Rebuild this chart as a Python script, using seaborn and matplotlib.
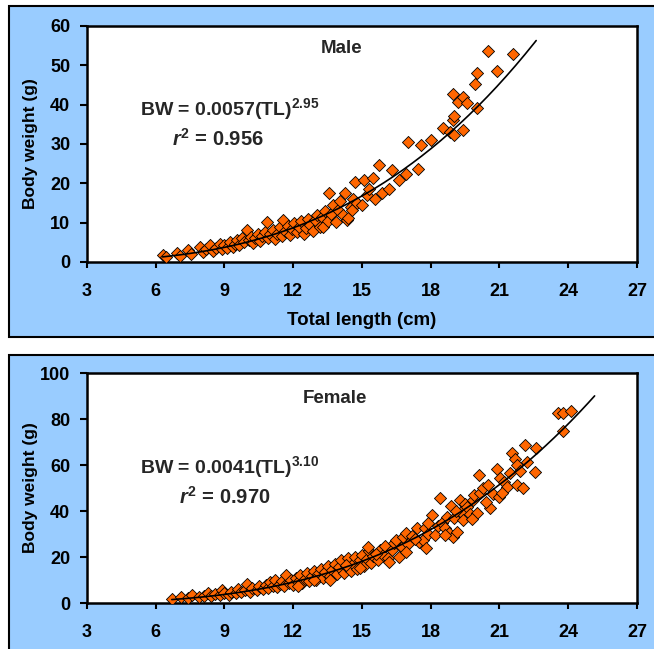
'''
Length-weight relationship of male and female fish (two panels)
Output: out.png
'''

import numpy as np
import pandas as pd
import seaborn as sns
import matplotlib.pyplot as plt
from matplotlib.patches import Rectangle

# plot settings
sns.set_theme(style="white")
plt.rcParams['font.family'] = ['Liberation Sans', 'DejaVu Sans']
plt.rcParams['mathtext.fontset'] = 'custom'
plt.rcParams['mathtext.rm'] = 'Liberation Sans:bold'
plt.rcParams['mathtext.it'] = 'Liberation Sans:bold:italic'
plt.rcParams['mathtext.bf'] = 'Liberation Sans:bold'

# ---- data ----
male_tl = [6.33, 6.45, 6.91, 7.05, 7.42, 7.55, 7.93, 8.05, 8.2, 8.37, 8.5, 8.65, 8.8, 8.9,
           9.0, 9.1, 9.25, 9.35, 9.45, 9.55, 9.65, 9.75, 9.85, 9.97, 10.05, 10.15, 10.25,
           10.35, 10.45, 10.55, 10.65, 10.75, 10.84, 10.9, 11.0, 11.1, 11.2, 11.3, 11.4,
           11.5, 11.57, 11.65, 11.75, 11.85, 11.95, 12.05, 12.15, 12.25, 12.35, 12.45,
           12.55, 12.65, 12.75, 12.85, 12.95, 13.05, 13.15, 13.25, 13.3, 13.4, 13.5,
           13.57, 13.65, 13.75, 13.85, 13.95, 14.05, 14.15, 14.26, 14.33, 14.4, 14.5,
           14.55, 14.6, 14.7, 14.8, 14.99, 15.1, 15.2, 15.3, 15.49, 15.57, 15.75, 15.86,
           16.18, 16.29, 16.61, 16.92, 17.02, 17.43, 17.56, 18.0, 18.52, 18.84, 19.0,
           19.42, 18.96, 19.01, 18.98, 19.2, 19.42, 19.57, 20.03, 19.93, 20.03, 20.9,
           20.51, 21.6]
male_bw = [1.8, 1.2, 2.2, 1.6, 3.0, 2.0, 3.7, 2.6, 3.2, 4.3, 2.9, 3.6, 4.7, 3.2,
           4.2, 3.6, 5.0, 3.9, 4.6, 5.6, 4.3, 6.0, 5.0, 8.1, 5.5, 6.4, 4.8,
           6.0, 7.0, 5.4, 6.6, 7.6, 10.2, 6.0, 7.2, 8.2, 5.8, 7.0, 8.8,
           6.5, 10.7, 7.8, 9.2, 6.8, 8.4, 10.0, 7.5, 9.0, 10.5, 7.2,
           8.6, 11.0, 9.5, 8.0, 10.8, 12.0, 9.0, 11.5, 9.0, 13.0, 10.5,
           17.6, 12.2, 14.5, 10.2, 13.2, 15.5, 12.0, 17.5, 10.7, 11.1, 14.0,
           13.2, 16.0, 20.4, 15.0, 14.5, 20.8, 17.0, 18.5, 21.3, 16.0, 24.7, 17.5,
           18.5, 23.4, 20.8, 22.4, 30.6, 23.6, 29.7, 31.0, 34.0, 33.1, 32.3,
           33.6, 36.1, 37.1, 42.6, 40.8, 42.0, 40.5, 39.2, 45.3, 48.0, 48.6,
           53.7, 52.9]

female_tl = [6.7, 7.1, 7.4, 7.6, 7.9, 8.1, 8.3, 8.4, 8.6, 8.8, 8.9, 9.0, 9.2, 9.3, 9.5,
             9.6, 9.7, 9.9, 10.0, 10.1, 10.2, 10.4, 10.5, 10.7, 10.8, 10.9, 11.0, 11.1,
             11.2, 11.3, 11.4, 11.5, 11.6, 11.7, 11.8, 11.9, 12.0, 12.1, 12.2, 12.3,
             12.4, 12.5, 12.6, 12.7, 12.8, 12.9, 13.0, 13.1, 13.2, 13.3, 13.4, 13.5,
             13.6, 13.7, 13.8, 13.9, 14.0, 14.1, 14.2, 14.3, 14.4, 14.5, 14.6, 14.7,
             14.8, 14.9, 15.0, 15.1, 15.2, 15.3, 15.27, 15.4, 15.5, 15.7, 15.8, 15.9,
             16.0, 16.15, 16.3, 16.4, 16.5, 16.6, 16.73, 16.8, 16.9, 17.0, 17.2, 17.4,
             17.5, 17.68, 17.75, 17.8, 17.9, 18.04, 18.18, 18.3, 18.4, 18.5, 18.62,
             18.7, 18.8, 18.9, 18.98, 19.0, 19.13, 19.27, 19.3, 19.42, 19.5, 19.57,
             19.7, 19.86, 19.9, 20.0, 20.12, 20.15, 20.3, 20.5, 20.58, 20.7, 20.9,
             20.99, 21.02, 21.2, 21.31, 21.46, 21.53, 21.67, 21.75, 21.77, 21.9, 22.04,
             22.12, 22.2, 22.55, 22.59, 23.56, 23.75, 24.1, 23.78,
             12.2, 12.9, 13.6, 14.3, 14.9, 15.6, 16.2, 16.9, 17.3, 17.9, 18.6, 19.1,
             19.8, 20.4, 21.1]
female_bw = [1.8, 2.6, 2.2, 3.4, 2.8, 3.0, 4.3, 3.2, 4.0, 3.5, 5.5, 4.2, 3.4, 5.0, 4.4,
             6.2, 4.8, 5.6, 8.3, 5.0, 6.5, 5.6, 7.2, 6.0, 8.0, 6.6, 9.0, 7.2,
             10.2, 6.8, 8.4, 9.5, 7.4, 12.0, 8.8, 10.0, 8.0, 11.0, 9.2, 12.3,
             8.6, 10.5, 13.0, 9.5, 11.6, 14.0, 10.2, 12.5, 15.0, 11.0, 13.4, 16.0,
             11.8, 14.2, 17.0, 12.8, 15.5, 18.5, 13.2, 16.2, 19.5, 14.0, 17.0, 20.0,
             15.0, 18.5, 21.0, 16.0, 19.0, 22.5, 24.5, 17.5, 20.5, 18.7, 23.0, 21.0,
             25.0, 19.4, 23.0, 26.0, 27.4, 20.1, 24.5, 28.5, 30.3, 25.5, 29.0, 32.5,
             26.5, 27.4, 32.5, 23.8, 30.0, 38.3, 29.6, 33.5, 45.5, 35.0, 32.5,
             37.5, 30.5, 42.2, 28.8, 36.8, 31.0, 44.8, 39.5, 36.1, 43.0, 41.9,
             38.5, 44.8, 47.0, 39.3, 55.7, 47.7, 50.0, 51.3, 41.2, 47.5, 58.1,
             46.0, 54.2, 52.5, 50.6, 56.4, 65.1, 62.5, 51.3, 60.0, 57.5, 49.9,
             68.7, 61.4, 57.1, 67.3, 82.5, 82.7, 83.5, 74.9,
             7.5, 10.0, 9.8, 16.5, 15.2, 21.5, 17.8, 22.0, 28.0, 35.0, 29.5, 40.0,
             36.5, 44.0, 48.0]

# fitted power curves BW = a * TL^b
male_fit = dict(a=0.0057, b=2.95, tl_min=6.3, tl_max=22.6, r2=0.956)
female_fit = dict(a=0.0041, b=3.10, tl_min=6.7, tl_max=25.15, r2=0.970)

x_ticks = [3, 6, 9, 12, 15, 18, 21, 24, 27]

W, H = 654, 649
fig = plt.figure(figsize=(W / 100, H / 100), dpi=100)

# light blue chart-area boxes
for y0, y1 in [(6, 337), (355, 660)]:
    fig.add_artist(Rectangle((9 / W, 1 - y1 / H), 1.0, (y1 - y0) / H,
                             transform=fig.transFigure, facecolor='#99CCFF',
                             edgecolor='black', linewidth=1.5, zorder=-5))


def draw_panel(ax, tl, bw, fit, ylim, yticks, sex, text_xy, eq_xy, sup, r2_xy):
    df = pd.DataFrame({'tl': tl, 'bw': bw})
    sns.scatterplot(data=df, x='tl', y='bw', ax=ax, marker='D', s=38,
                    color='#FF6600', edgecolor='black', linewidth=0.6, zorder=3)
    x_line = np.linspace(fit['tl_min'], fit['tl_max'], 200)
    curve = pd.DataFrame({'tl': x_line, 'bw': fit['a'] * x_line ** fit['b']})
    sns.lineplot(data=curve, x='tl', y='bw', ax=ax, color='black', linewidth=1.2, zorder=4)

    ax.set_xlim(3, 27)
    ax.set_ylim(*ylim)
    ax.set_xticks(x_ticks)
    ax.set_yticks(yticks)
    ax.set_facecolor('white')
    for s in ax.spines.values():
        s.set_color('black')
        s.set_linewidth(1.8)
    ax.tick_params(axis='x', direction='out', length=4, width=1.5, pad=11,
                   labelsize=13, colors='black', bottom=True)
    ax.tick_params(axis='y', direction='out', length=5, width=1.5, pad=7,
                   labelsize=13, colors='black', left=True)
    for lab in ax.get_xticklabels() + ax.get_yticklabels():
        lab.set_fontweight('bold')
    ax.set_ylabel('Body weight (g)', fontsize=12.5, fontweight='bold', color='black')
    ax.yaxis.set_label_coords(-0.09, 0.5)
    ax.set_xlabel('')

    ax.text(*text_xy, sex, fontsize=13.5, fontweight='bold', ha='center', va='center')
    ax.text(*eq_xy, 'BW = ' + f"{fit['a']:.4f}" + '(TL)$^{' + sup + '}$',
            fontsize=14, fontweight='bold', ha='left', va='center')
    ax.text(*r2_xy, '$r^{2}$ = ' + f"{fit['r2']:.3f}",
            fontsize=14.5, fontweight='bold', ha='left', va='center')


ax1 = fig.add_axes([87 / W, 1 - 262 / H, 550 / W, 236 / H])
draw_panel(ax1, male_tl, male_bw, male_fit, (0, 60), [0, 10, 20, 30, 40, 50, 60],
           'Male', (14.1, 54.2), (5.3, 39.0), '2.95', (6.7, 31.3))
ax1.set_xlabel('Total length (cm)', fontsize=13.5, fontweight='bold', color='black', labelpad=9)

ax2 = fig.add_axes([87 / W, 1 - 603 / H, 550 / W, 230 / H])
draw_panel(ax2, female_tl, female_bw, female_fit, (0, 100), [0, 20, 40, 60, 80, 100],
           'Female', (13.8, 89.1), (5.3, 59.0), '3.10', (7.0, 46.0))

plt.savefig('out.png', dpi=100)
plt.close()
